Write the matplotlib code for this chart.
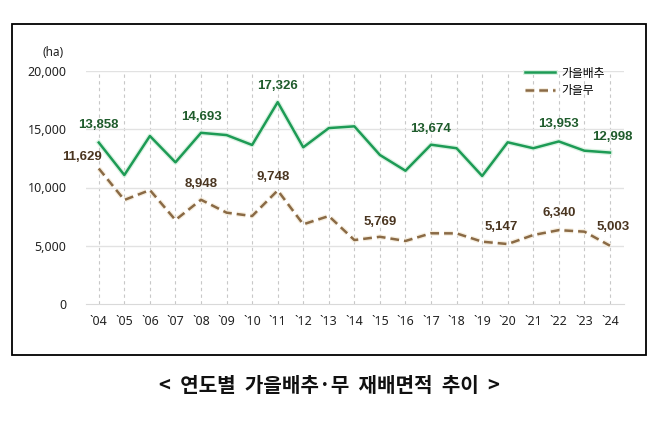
import matplotlib
matplotlib.use("Agg")
import matplotlib.pyplot as plt
import matplotlib.patheffects as pe
from matplotlib.patches import Rectangle

plt.rcParams["font.family"] = ["Noto Sans CJK KR", "DejaVu Sans"]

years = ["`04", "`05", "`06", "`07", "`08", "`09", "`10", "`11", "`12", "`13", "`14",
         "`15", "`16", "`17", "`18", "`19", "`20", "`21", "`22", "`23", "`24"]
cabbage = [13858, 11070, 14420, 12160, 14693, 14500, 13650, 17326, 13450, 15100, 15250,
           12790, 11440, 13674, 13370, 10990, 13880, 13370, 13953, 13160, 12998]
radish = [11629, 8930, 9780, 7210, 8948, 7840, 7550, 9748, 6840, 7550, 5490,
          5769, 5410, 6070, 6060, 5350, 5147, 5920, 6340, 6210, 5003]

# which points carry a value label, with (dx, dy) offsets in points
cabbage_labels = {0: (0, 8), 4: (0, 7), 7: (0, 7), 13: (0, 7), 18: (0, 8), 20: (2, 7)}
radish_labels = {0: (-12, 4), 4: (0, 7), 7: (-3, 5), 11: (0, 6), 16: (-5, 8), 18: (0, 8), 20: (2, 9)}

green = "#1d9b55"
green_txt = "#1f5c2c"
brown = "#8a6a45"
brown_txt = "#4a3520"
num_font = ["Noto Sans", "DejaVu Sans"]
bold_font = ["Liberation Sans", "DejaVu Sans"]

fig = plt.figure(figsize=(6.58, 4.21), dpi=100)
fig.patches.append(Rectangle((12 / 658, 1 - 355 / 421), 634 / 658, 331 / 421,
                             transform=fig.transFigure, fill=False,
                             edgecolor="black", linewidth=1.3))

ax = fig.add_axes([86 / 658, 1 - 304 / 421, 538 / 658, 233 / 421])
x = list(range(len(years)))

for xi in x:
    ax.axvline(xi, color="#c8c8c8", linewidth=0.8, linestyle=(0, (3, 3)), zorder=0)
for yv in [5000, 10000, 15000, 20000]:
    ax.axhline(yv, color="#e2e2e2", linewidth=1.0, zorder=0)

ax.plot(x, cabbage, color=green, linewidth=1.8, label="가을배추", zorder=3,
        path_effects=[pe.Stroke(linewidth=3.6, foreground="#dcf2e3"), pe.Normal()])
ax.plot(x, radish, color=brown, linewidth=1.8, linestyle=(0, (3.5, 2)), label="가을무", zorder=3,
        path_effects=[pe.Stroke(linewidth=3.6, foreground="#f6eedf"), pe.Normal()])

for i, (dx, dy) in cabbage_labels.items():
    ax.annotate(f"{cabbage[i]:,}", (i, cabbage[i]), xytext=(dx, dy), textcoords="offset points",
                ha="center", va="bottom", fontsize=9.5, fontweight="bold", color=green_txt,
                family=bold_font)
for i, (dx, dy) in radish_labels.items():
    ax.annotate(f"{radish[i]:,}", (i, radish[i]), xytext=(dx, dy), textcoords="offset points",
                ha="center", va="bottom", fontsize=9.5, fontweight="bold", color=brown_txt,
                family=bold_font)

ax.set_xlim(-0.5, 20.55)
ax.set_ylim(0, 20000)
ax.set_xticks(x)
ax.set_xticklabels(years, family=num_font)
ax.set_yticks([0, 5000, 10000, 15000, 20000])
ax.set_yticklabels([f"{v:,}" for v in [0, 5000, 10000, 15000, 20000]], family=num_font)
ax.tick_params(axis="both", length=0, labelsize=9, colors="#222222")
ax.tick_params(axis="x", pad=8)
ax.tick_params(axis="y", pad=14)
for s in ["top", "right", "left"]:
    ax.spines[s].set_visible(False)
ax.spines["bottom"].set_color("#d9d9d9")

fig.text(53 / 658, 1 - 52 / 421, "(ha)", ha="center", va="center", fontsize=8.5, color="#222222",
         family=num_font)

ax.legend(loc="upper left", bbox_to_anchor=(514 / 658, 1 - 56 / 421), bbox_transform=fig.transFigure,
          frameon=False, fontsize=8.5, handlelength=2.6, labelspacing=0.4, handletextpad=0.5)

fig.text(329 / 658, 1 - 385 / 421, "<  연도별  가을배추·무  재배면적  추이  >", ha="center", va="center",
         fontsize=14.5, fontweight="bold", color="#111111")

fig.savefig("out.png", dpi=100)
